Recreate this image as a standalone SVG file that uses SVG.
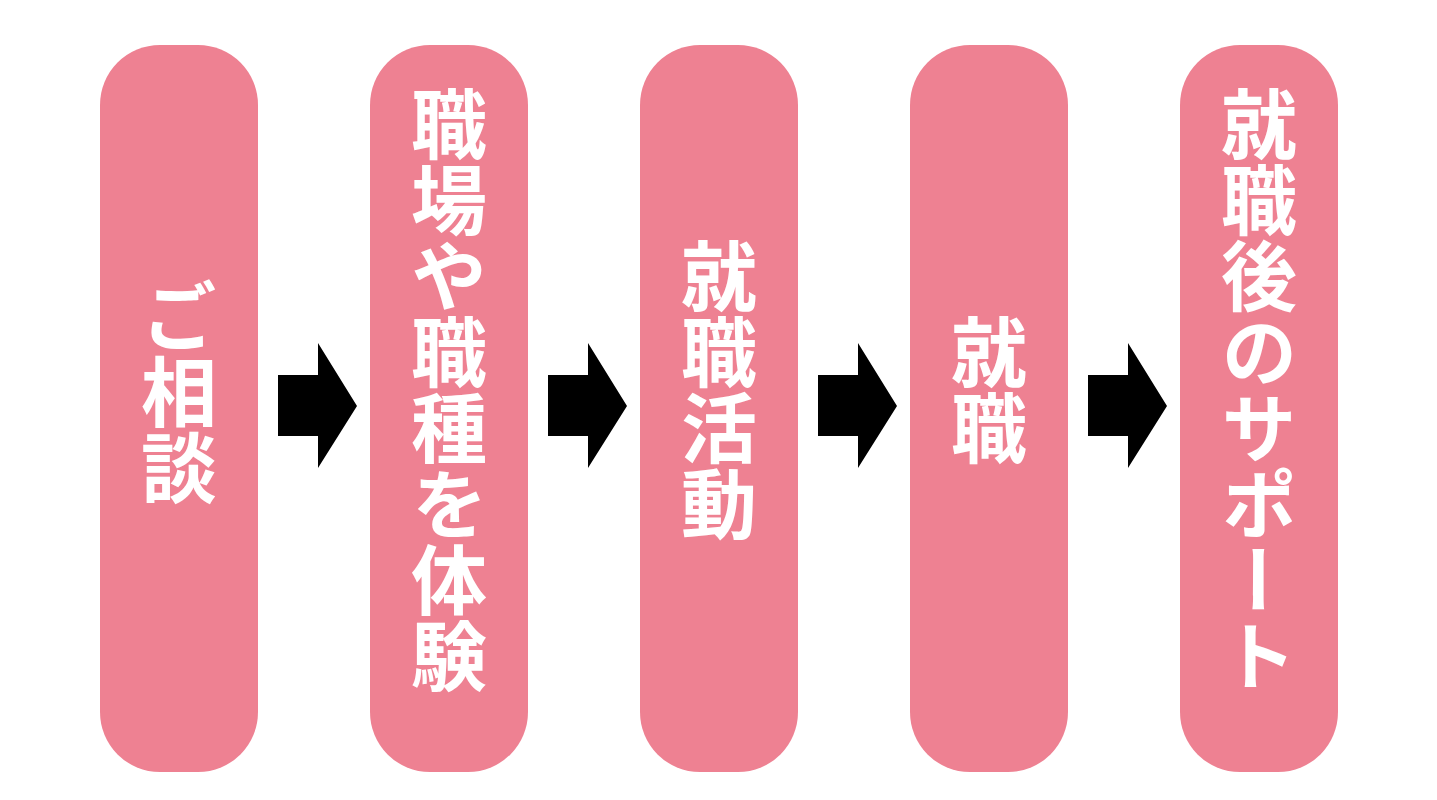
<svg xmlns="http://www.w3.org/2000/svg" width="1437" height="800" viewBox="0 0 1437 800">
<style>
.box{fill:#EE8192;}
.lbl{fill:#FFFFFF;font-family:"Noto Sans CJK JP","Noto Sans CJK SC",sans-serif;font-weight:700;font-size:76px;writing-mode:vertical-rl;text-anchor:middle;}
.arr{fill:#000000;}
</style>
<rect width="1437" height="800" fill="#FFFFFF"/>
<g id="node1"><rect class="box" x="100" y="45" width="158" height="727" rx="60" ry="60"/><text class="lbl" x="179" y="392">ご相談</text></g>
<g id="node2"><rect class="box" x="370" y="45" width="158" height="727" rx="60" ry="60"/><text class="lbl" x="449" y="390">職場や職種を体験</text></g>
<g id="node3"><rect class="box" x="640" y="45" width="158" height="727" rx="60" ry="60"/><text class="lbl" x="719" y="390">就職活動</text></g>
<g id="node4"><rect class="box" x="910" y="45" width="158" height="727" rx="60" ry="60"/><text class="lbl" x="989" y="390">就職</text></g>
<g id="node5"><rect class="box" x="1180" y="45" width="158" height="727" rx="60" ry="60"/><text class="lbl" x="1259" y="390">就職後のサポート</text></g>
<g id="connectors">
<polygon class="arr" points="278,375 318,375 318,343 357,406 318,468 318,436 278,436"/>
<polygon class="arr" points="548,375 588,375 588,343 627,406 588,468 588,436 548,436"/>
<polygon class="arr" points="818,375 858,375 858,343 897,406 858,468 858,436 818,436"/>
<polygon class="arr" points="1088,375 1128,375 1128,343 1167,406 1128,468 1128,436 1088,436"/>
</g>
</svg>
